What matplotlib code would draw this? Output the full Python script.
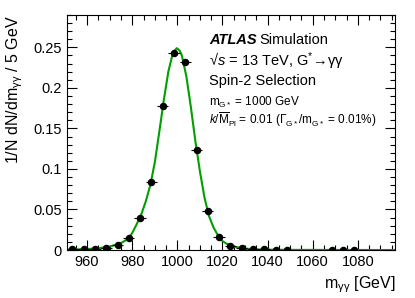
import numpy as np
import matplotlib
matplotlib.use('Agg')
import matplotlib.pyplot as plt
from matplotlib.ticker import MultipleLocator

plt.rcParams['font.family'] = ['Liberation Sans', 'DejaVu Sans']
plt.rcParams['mathtext.fontset'] = 'custom'
plt.rcParams['mathtext.rm'] = 'Liberation Sans'
plt.rcParams['mathtext.it'] = 'Liberation Sans:italic'

# points MC (centres de bin, 5 GeV)
bin_x = [953.5, 958.5, 963.5, 968.5, 973.5, 978.5, 983.5, 988.5, 993.5, 998.5,
         1003.5, 1008.5, 1013.5, 1018.5, 1023.5, 1028.5, 1033.5, 1038.5, 1043.5,
         1048.5, 1068.5, 1073.5, 1078.5]
bin_y = [0.0008, 0.001, 0.0018, 0.003, 0.0066, 0.0148, 0.040, 0.0836, 0.1775, 0.2426,
         0.2315, 0.123, 0.0478, 0.016, 0.005, 0.002, 0.001, 0.001, 0.0005,
         0.0004, 0.0002, 0.0002, 0.0002]

# courbe d'ajustement
fit_x = [951, 955, 960, 965, 970, 975, 978, 980, 982, 984, 986, 988, 990, 992, 994,
         996, 998, 999.7, 1001, 1002, 1004, 1006, 1008, 1010, 1012, 1014, 1016,
         1018, 1020, 1022, 1025, 1030, 1035, 1040, 1050, 1070, 1096]
fit_y = [0.0004, 0.0007, 0.0012, 0.0022, 0.0042, 0.0085, 0.0135, 0.021, 0.032, 0.044,
         0.060, 0.080, 0.108, 0.146, 0.185, 0.220, 0.243, 0.249, 0.246, 0.240,
         0.214, 0.176, 0.134, 0.097, 0.065, 0.042, 0.028, 0.018, 0.011, 0.0075,
         0.0042, 0.0017, 0.0008, 0.0004, 0.0002, 0.0001, 0.0]

fig = plt.figure(figsize=(4.15, 2.98), dpi=100)
ax = fig.add_axes([0.161, 0.161, 0.791, 0.789])

ax.plot(fit_x, fit_y, color='#00a000', lw=1.5, zorder=2)
ax.errorbar(bin_x, bin_y, xerr=2.5, fmt='o', color='black', ms=4.4,
            elinewidth=0.8, capsize=0, zorder=3)

ax.set_xlim(951, 1096.5)
ax.set_ylim(0, 0.29)
ax.xaxis.set_major_locator(MultipleLocator(20))
ax.xaxis.set_minor_locator(MultipleLocator(5))
ax.yaxis.set_major_locator(MultipleLocator(0.05))
ax.yaxis.set_minor_locator(MultipleLocator(0.01))
ax.tick_params(which='both', direction='in', top=True, right=True, labelsize=10.5)
ax.tick_params(which='major', length=7, width=0.8)
ax.tick_params(which='minor', length=3.5, width=0.8)
ax.set_yticks([0, 0.05, 0.1, 0.15, 0.2, 0.25])
ax.set_yticklabels(['0', '0.05', '0.1', '0.15', '0.2', '0.25'])

ax.set_xlabel(r'm$_{\mathrm{γγ}}$ [GeV]', fontsize=11.5, loc='right', labelpad=4)
ax.set_ylabel(r'1/N dN/dm$_{\mathrm{γγ}}$ / 5 GeV', fontsize=11.5, loc='top', labelpad=6)

tx = 0.433
ax.text(tx, 0.878, 'ATLAS', transform=ax.transAxes, fontsize=10.5,
        fontweight='bold', style='italic')
ax.text(tx + 0.155, 0.878, 'Simulation', transform=ax.transAxes, fontsize=10.5)
ax.text(tx, 0.78, r'√$\mathit{s}$ = 13 TeV, G$^{*}\!\rightarrow\!$γγ',
        transform=ax.transAxes, fontsize=10.5)
ax.text(tx, 0.70, 'Spin-2 Selection', transform=ax.transAxes, fontsize=10.5)
ax.text(tx, 0.614, r'm$_{\mathrm{G*}}$ = 1000 GeV', transform=ax.transAxes, fontsize=8.5)
ax.text(tx, 0.536, r'$\mathit{k}$/$\overline{\mathrm{M}}_{\mathrm{Pl}}$ = 0.01 ($\Gamma_{\mathrm{G*}}$/m$_{\mathrm{G*}}$ = 0.01%)',
        transform=ax.transAxes, fontsize=8.5)

fig.savefig('out.png', dpi=100)
